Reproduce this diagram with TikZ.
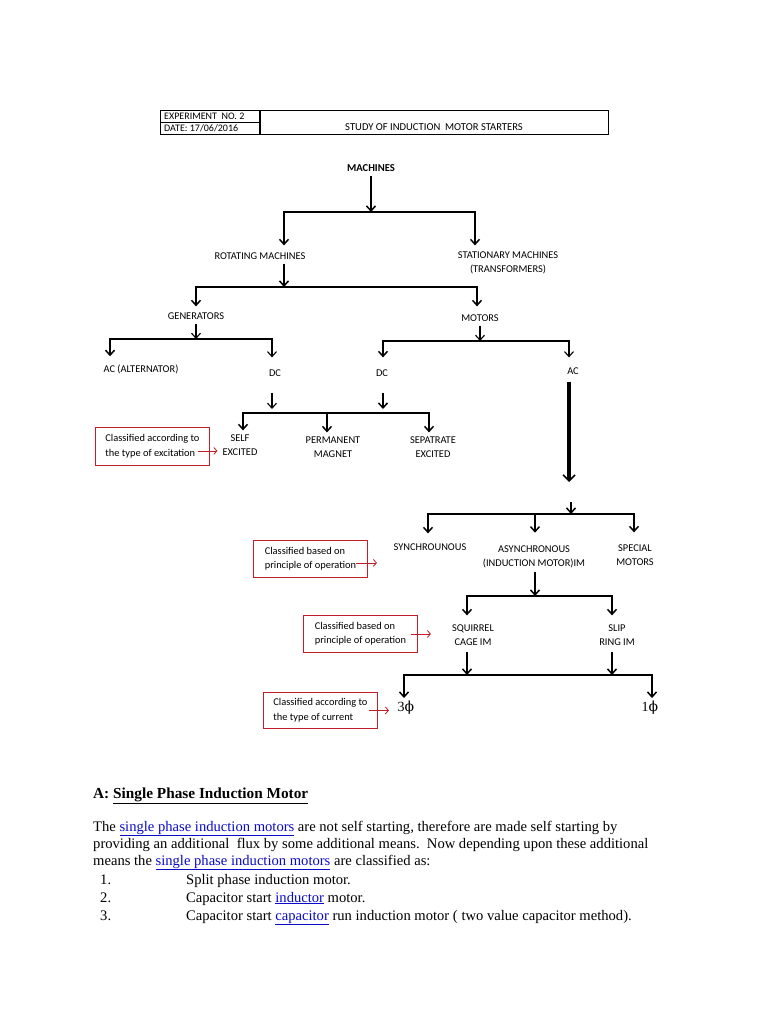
\documentclass[tikz,border=0pt]{standalone}
\usepackage{fontspec}
\setmainfont{Liberation Serif}
\newfontfamily\diagfont{Carlito}
\newfontfamily\phifont{DejaVu Serif}
\usetikzlibrary{arrows.meta}
\definecolor{notered}{RGB}{192,30,40}
\definecolor{linkblue}{RGB}{10,10,200}
\newcommand{\lnk}[1]{\textcolor{linkblue}{\underline{#1}}}
\begin{document}
\begin{tikzpicture}[x=1pt,y=-1pt,
  lbl/.style={font=\diagfont\fontsize{10.4}{14}\selectfont, align=center, inner xsep=0pt, inner ysep=4pt},
  ln/.style={line width=1.7pt, line cap=rect},
  arr/.style={line width=1.7pt, -{Straight Barb[length=5pt,width=9pt,line width=1.5pt]}},
  tarr/.style={line width=1.1pt, -{Straight Barb[length=5pt,width=9pt,line width=1.1pt]}},
  note/.style={draw=notered, line width=0.9pt, minimum width=114pt, minimum height=38pt, inner sep=0pt, align=left, font=\diagfont\fontsize{10.4}{14.5}\selectfont, anchor=north west},
  redarr/.style={draw=notered, line width=0.8pt, -{Straight Barb[length=3pt,width=7pt,line width=0.8pt]}},
  body/.style={font=\fontsize{14.6}{17}\selectfont, anchor=base west, inner sep=0pt},
  hdrtxt/.style={font=\diagfont\fontsize{10}{11}\selectfont, inner sep=0pt},
  phitxt/.style={font=\fontsize{14}{16}\selectfont, inner xsep=0pt, inner ysep=3pt}
]
\useasboundingbox (0,0) rectangle (768,1024);
\fill[white] (0,0) rectangle (768,1024);

% header table
\node[draw, line width=1.2pt, minimum width=448pt, minimum height=24pt, anchor=north west, inner sep=0pt] (hdr) at (160,110) {};
\coordinate (hdrdiv) at (260,110);
\draw[line width=1.2pt] (hdr.north -| hdrdiv) -- (hdr.south -| hdrdiv);
\draw[line width=1.2pt] (hdr.west) -- (hdr.west -| hdrdiv);
\node[hdrtxt, anchor=west] (exp) at (164,116) {EXPERIMENT\ \ NO. 2};
\node[hdrtxt, anchor=west] (date) at (164,128) {DATE: 17/06/2016};
\node[hdrtxt, font=\diagfont\fontsize{10.6}{11}\selectfont] (title) at (434,127) {STUDY OF INDUCTION\ \ MOTOR STARTERS};

% level 0
\node[lbl, font=\diagfont\bfseries\fontsize{10.6}{14}\selectfont] (machines) at (371,168) {MACHINES};
\coordinate (j1) at (371,212);
\coordinate (j1l) at (284,212);
\coordinate (j1r) at (475,212);
\draw[arr] (machines) -- (j1);
\draw[ln] (j1l) -- (j1r);
\node[lbl] (rot) at (260,256) {ROTATING MACHINES};
\node[lbl] (stat) at (508,263) {STATIONARY MACHINES\\(TRANSFORMERS)};
\draw[arr, shorten >=3pt] (j1l) -- (j1l |- rot.north);
\draw[arr, shorten >=3pt] (j1r) -- (j1r |- rot.north);

% rotating machines
\coordinate (j2) at (284,287);
\coordinate (j2l) at (196,287);
\coordinate (j2r) at (477,287);
\draw[arr] (rot.south -| j1l) -- (j2);
\draw[ln] (j2l) -- (j2r);
\node[lbl] (gen) at (196,316) {GENERATORS};
\node[lbl] (mot) at (480,318) {MOTORS};
\draw[arr, shorten >=2pt] (j2l) -- (j2l |- gen.north);
\draw[arr, shorten >=4pt] (j2r) -- (j2r |- mot.north);

% generators
\coordinate (j3) at (196,339);
\coordinate (j3l) at (110,339);
\coordinate (j3r) at (272,339);
\draw[tarr] (gen) -- (j3);
\draw[ln] (j3l) -- (j3r);
\node[lbl] (acalt) at (141,369) {AC (ALTERNATOR)};
\node[lbl] (dcg) at (275,373) {DC};
\draw[arr, shorten >=4pt] (j3l) -- (j3l |- acalt.north);
\draw[tarr, shorten >=8pt] (j3r) -- (j3r |- dcg.north);

% motors
\coordinate (j4) at (480,341);
\coordinate (j4l) at (383,341);
\coordinate (j4r) at (569,341);
\draw[tarr] (mot.south -| j4) -- (j4);
\draw[ln] (j4l) -- (j4r);
\node[lbl] (dcm) at (382,373) {DC};
\node[lbl] (acm) at (573,371) {AC};
\draw[arr, shorten >=8pt] (j4l) -- (j4l |- dcm.north);
\draw[tarr, shorten >=6pt] (j4r) -- (j4r |- acm.north);

% DC machines
\coordinate (j5a) at (243,413);
\coordinate (j5b) at (327,413);
\coordinate (j5c) at (429,413);
\draw[tarr, shorten <=12pt, shorten >=4pt] (dcg.south -| j3r) -- (j3r |- j5a);
\draw[arr, shorten <=12pt, shorten >=4pt] (dcm.south -| j4l) -- (j4l |- j5a);
\draw[ln] (j5a) -- (j5c);
\node[lbl] (self) at (240,445) {SELF\\EXCITED};
\node[lbl] (perm) at (333,447) {PERMANENT\\MAGNET};
\node[lbl] (sep) at (433,447) {SEPATRATE\\EXCITED};
\draw[arr] (j5a) -- (j5a |- self.north);
\draw[arr] (j5b) -- (j5b |- perm.north);
\draw[arr] (j5c) -- (j5c |- sep.north);
\node[note] (note1) at (95,427) {Classified according to\\the type of excitation};
\coordinate (r1) at ([xshift=-12pt,yshift=15pt]note1.south east);
\draw[redarr, shorten >=5pt] (r1) -- (r1 -| self.west);

% AC motors
\coordinate (acend) at (569,482);
\draw[line width=3.2pt, -{Straight Barb[length=6pt,width=12pt,line width=1.6pt]}, shorten <=3pt] (acm.south -| j4r) -- (acend);
\coordinate (j6top) at (571,502);
\coordinate (j6) at (571,514);
\coordinate (j6l) at (428,514);
\coordinate (j6m) at (535,514);
\coordinate (j6r) at (634,514);
\draw[arr] (j6top) -- (j6);
\draw[ln] (j6l) -- (j6r);
\node[lbl] (sync) at (430,547) {SYNCHROUNOUS};
\node[lbl] (async) at (534,557) {ASYNCHRONOUS\\(INDUCTION MOTOR)IM};
\node[lbl] (special) at (635,555) {SPECIAL\\MOTORS};
\draw[arr, shorten >=6pt] (j6l) -- (j6l |- sync.north);
\draw[arr, shorten >=9pt] (j6m) -- (j6m |- async.north);
\draw[arr, shorten >=8pt] (j6r) -- (j6r |- special.north);
\node[note, minimum height=37pt] (note2) at (253,540) {Classified based on\\principle of operation};
\coordinate (r2) at ([xshift=-12pt,yshift=15pt]note2.south east);
\coordinate (r2e) at ([xshift=21pt]r2);
\draw[redarr] (r2) -- (r2e);

% asynchronous
\coordinate (j7) at (535,596);
\coordinate (j7l) at (467,596);
\coordinate (j7r) at (612,596);
\draw[arr] (async.south -| j6m) -- (j7);
\draw[ln] (j7l) -- (j7r);
\node[lbl] (sq) at (473,635) {SQUIRREL\\CAGE IM};
\node[lbl] (slip) at (617,635) {SLIP\\RING IM};
\draw[arr, shorten >=5pt] (j7l) -- (j7l |- sq.north);
\draw[arr, shorten >=5pt] (j7r) -- (j7r |- slip.north);
\node[note, minimum height=37pt] (note3) at (303,615) {Classified based on\\principle of operation};
\coordinate (r3) at ([xshift=-7pt]note3.east);
\coordinate (r3e) at ([xshift=20pt]r3);
\draw[redarr] (r3) -- (r3e);

% current type
\coordinate (j8l) at (404,675);
\coordinate (j8r) at (652,675);
\draw[arr, shorten <=2pt] (sq.south -| j7l) -- (j7l |- j8l);
\draw[arr, shorten <=2pt] (slip.south -| j7r) -- (j7r |- j8l);
\draw[ln] (j8l) -- (j8r);
\node[phitxt] (three) at (406,708) {3\phifont ϕ};
\node[phitxt] (one) at (650,708) {1\phifont ϕ};
\draw[arr] (j8l) -- (j8l |- three.north);
\draw[arr] (j8r) -- (j8r |- one.north);
\node[note, minimum height=36pt] (note4) at (263,692) {Classified according to\\the type of current};
\coordinate (r4) at ([xshift=-9pt]note4.east);
\coordinate (r4e) at ([xshift=20pt]r4);
\draw[redarr] (r4) -- (r4e);

% text
\node[body, font=\bfseries\fontsize{15.3}{17}\selectfont] (head) at (93,798) {A: \underline{Single Phase Induction Motor}};
\node[body] (p1) at (93,831) {The \lnk{single phase induction motors} are not self starting, therefore are made self starting by};
\node[body] (p2) at (93,848) {providing an additional\ \ flux by some additional means.\ \ Now depending upon these additional};
\node[body] (p3) at (93,865) {means the \lnk{single phase induction motors} are classified as:};
\node[body] (n1) at (100,884) {1.};
\node[body] (t1) at (186,884) {Split phase induction motor.};
\node[body] (n2) at (100,902) {2.};
\node[body] (t2) at (186,902) {Capacitor start \lnk{inductor} motor.};
\node[body] (n3) at (100,920) {3.};
\node[body] (t3) at (186,920) {Capacitor start \lnk{capacitor} run induction motor ( two value capacitor method).};
\end{tikzpicture}
\end{document}
